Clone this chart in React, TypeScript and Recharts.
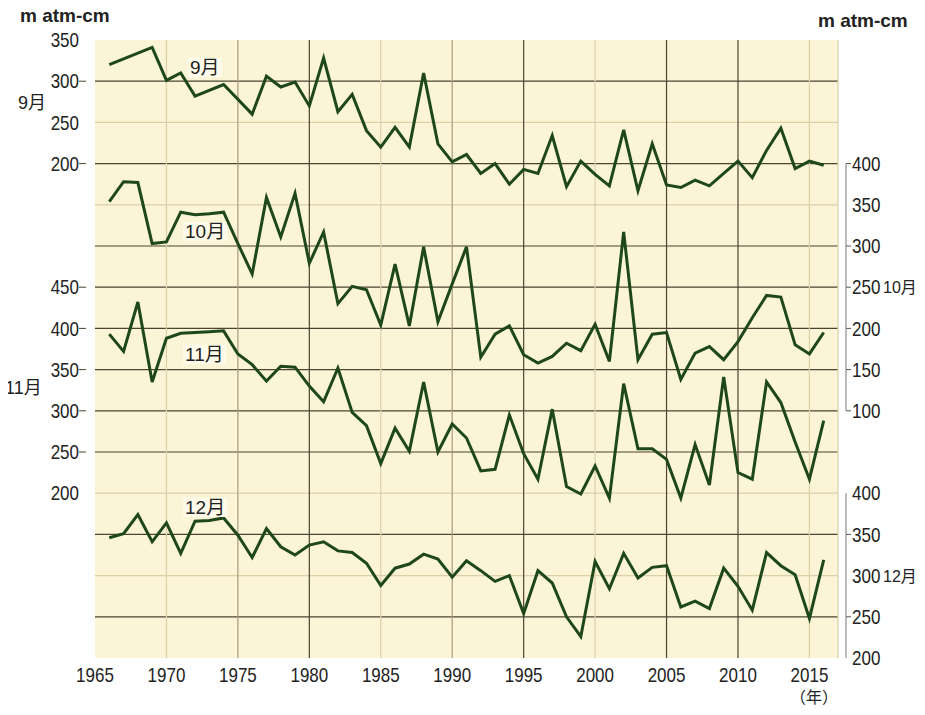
import React from "react";
import { LineChart, Line, XAxis, YAxis, ReferenceLine, ReferenceArea } from "recharts";

const years = [
  1966, 1967, 1968, 1969, 1970, 1971, 1972, 1973, 1974, 1975, 1976, 1977, 1978,
  1979, 1980, 1981, 1982, 1983, 1984, 1985, 1986, 1987, 1988, 1989, 1990, 1991,
  1992, 1993, 1994, 1995, 1996, 1997, 1998, 1999, 2000, 2001, 2002, 2003, 2004,
  2005, 2006, 2007, 2008, 2009, 2010, 2011, 2012, 2013, 2014, 2015, 2016,
];

// 9月 (left scale, top)
const sep = [
  320, null, null, 341, 301, 310, 282, null, 296, null, 260, 306, 293, 299, 270,
  328, 263, 284, 240, 220, 244, 220, 310, 224, 202, 211, 188, 200, 175, 193, 188,
  234, 172, 203, 187, 173, 241, 167, 224, 174, 171, 180, 173, 188, 203, 183, 216,
  243, 194, 203, 198,
];

// 10月 (right scale, upper)
const oct = [
  354, 378, 377, 303, 305, 341, 338, 339, 341, 303, 266, 359, 311, 364, 279, 317,
  230, 251, 247, 204, 278, 203, 299, 208, 254, 299, 165, 193, 203, 168, 158, 166,
  182, 173, 205, 160, 317, 162, 193, 195, 138, 170, 178, 162, 184, 213, 240, 238,
  180, 169, 195,
];

// 11月 (left scale, lower)
const nov = [
  393, 372, 432, 335, 388, 394, 395, 396, 397, 369, 356, 336, 354, 353, 330, 311,
  352, 298, 282, 236, 279, 251, 335, 250, 284, 267, 227, 229, 295, 248, 217, 302,
  208, 199, 233, 194, 333, 254, 254, 241, 194, 259, 210, 341, 225, 217, 335, 310,
  262, 217, 288,
];

// 12月 (right scale, lower)
const dec = [
  346, 351, 374, 341, 364, 327, 366, 367, 370, 349, 322, 357, 335, 325, 337, 341,
  330, 328, 315, 288, 309, 314, 326, 320, 298, 318, 306, 293, 300, 254, 306, 291,
  250, 226, 317, 284, 327, 297, 310, 312, 262, 269, 260, 309, 287, 258, 328, 312,
  301, 248, 319,
];

const xTicks = [1965, 1970, 1975, 1980, 1985, 1990, 1995, 2000, 2005, 2010, 2015];
// left axis ticks in the 9月 scale; values below 200 belong to 11月 (+400)
const leftTicks = [350, 300, 250, 200, 50, 0, -50, -100, -150, -200];
// right axis ticks in the 10月 scale; values below 100 belong to 12月 (+400)
const rightTicks = [400, 350, 300, 250, 200, 150, 100, 0, -50, -100, -150, -200];

const data = years.map((year, i) => ({
  year,
  sep: sep[i],
  oct: oct[i],
  nov: nov[i],
  dec: dec[i],
}));

const W = 905;
const H = 698;
const PLOT_L = 87;
const PLOT_R = 830;
const PLOT_T = 32;
const PLOT_B = 650;
const STEP = (PLOT_B - PLOT_T) / 15;

const BG = "#FBF4D6";
const DARK = "#4B4432";
const MID = "#A89C78";
const LIGHT = "#DCD0A8";
const LINE = "#1E471B";
const FONT = "'Liberation Sans', 'Noto Sans CJK JP', sans-serif";

const hGrid = [300, 250, 200, 150, 100, 50, 0, -50, -100, -150, -200, -250, -300, -350];
const hLight = [250, 150, -200, -300];
const vGrid = [1970, 1975, 1980, 1985, 1990, 1995, 2000, 2005, 2010, 2015];
const vDark = [1980, 1995, 2005, 2010];
const vMid = [1975, 1990];

const leftDash = [300, 200, 50, 0, -50, -100, -150];
const rightDash = [400, 300, 250, 200, 150, 100, -50, -150];
const rightSeg = [400, 350, 300, 250, 200, 150, 0, -50, -100, -150];

// narrow digits like the original's condensed gothic face
const NarrowText = ({ x, y, anchor, children }: any) => (
  <g transform={`translate(${x},${y}) scale(0.85,1)`}>
    <text x={0} y={0} dy="0.36em" textAnchor={anchor} fontSize={20} fill="#222" fontFamily={FONT}>
      {children}
    </text>
  </g>
);

const LeftTick = (props: any) => {
  const { y, payload } = props;
  const v = payload.value;
  const label = v >= 200 ? v : v + 400;
  return (
    <g>
      {leftDash.includes(v) && (
        <line x1={PLOT_L - 16} x2={PLOT_L - 9} y1={y} y2={y} stroke={DARK} strokeWidth={1} />
      )}
      <NarrowText x={PLOT_L - 16} y={y} anchor="end">
        {label}
      </NarrowText>
    </g>
  );
};

const RightTick = (props: any) => {
  const { y, payload } = props;
  const v = payload.value;
  const label = v >= 100 ? v : v + 400;
  const ax = PLOT_R + 8;
  return (
    <g>
      {rightSeg.includes(v) && (
        <line x1={ax} x2={ax} y1={y} y2={y + STEP} stroke="#777" strokeWidth={1} />
      )}
      {rightDash.includes(v) && (
        <line x1={ax} x2={ax + 5} y1={y} y2={y} stroke="#555" strokeWidth={1} />
      )}
      <NarrowText x={ax + 6} y={y} anchor="start">
        {label}
      </NarrowText>
    </g>
  );
};

const XTick = (props: any) => {
  const { x, payload } = props;
  return (
    <NarrowText x={x} y={PLOT_B + 17} anchor="middle">
      {payload.value}
    </NarrowText>
  );
};

const labels = [
  { text: "m atm-cm", left: 12, top: -2, size: 19, bold: true },
  { text: "m atm-cm", left: 810, top: 3, size: 19, bold: true },
  { text: "9月", left: 10, top: 86, size: 18 },
  { text: "11月", left: -3, top: 371, size: 18 },
  { text: "10月", left: 875, top: 272, size: 16 },
  { text: "12月", left: 875, top: 561, size: 16 },
  { text: "9月", left: 180, top: 50, size: 19, box: true },
  { text: "10月", left: 175, top: 214, size: 19, box: true },
  { text: "11月", left: 175, top: 337, size: 19, box: true },
  { text: "12月", left: 175, top: 490, size: 19, box: true },
  { text: "（年）", left: 782, top: 682, size: 16 },
];

const App = () => {
  return (
    <div style={{ position: "relative", width: W, height: H }}>
      <LineChart width={W} height={H} data={data} margin={{ top: PLOT_T, right: 0, left: 0, bottom: 18 }}>
        <XAxis
          dataKey="year"
          type="number"
          domain={[1965, 2017]}
          ticks={xTicks}
          interval={0}
          axisLine={false}
          tickLine={false}
          height={30}
          tick={<XTick />}
        />
        <YAxis
          yAxisId="sep"
          orientation="left"
          width={PLOT_L}
          domain={[-400, 350]}
          ticks={leftTicks}
          interval={0}
          axisLine={{ stroke: DARK, strokeWidth: 1.5 }}
          tickLine={false}
          tick={<LeftTick />}
        />
        <YAxis
          yAxisId="oct"
          orientation="right"
          width={W - PLOT_R}
          domain={[-200, 550]}
          ticks={rightTicks}
          interval={0}
          axisLine={false}
          tickLine={false}
          tick={<RightTick />}
        />
        <YAxis yAxisId="nov" hide domain={[0, 750]} />
        <YAxis yAxisId="dec" hide domain={[200, 950]} />

        <ReferenceArea yAxisId="sep" x1={1965} x2={2017} y1={-400} y2={350} fill={BG} fillOpacity={1} stroke="none" />
        {hGrid.map((v) => (
          <ReferenceLine
            key={"h" + v}
            yAxisId="sep"
            y={v}
            stroke={hLight.includes(v) ? LIGHT : DARK}
            strokeWidth={1.2}
          />
        ))}
        {vGrid.map((yr) => (
          <ReferenceLine
            key={"v" + yr}
            yAxisId="sep"
            x={yr}
            stroke={vDark.includes(yr) ? DARK : vMid.includes(yr) ? MID : LIGHT}
            strokeWidth={1.2}
          />
        ))}
        <ReferenceLine yAxisId="sep" x={2017} stroke={LIGHT} strokeWidth={1.2} />

        <Line yAxisId="sep" dataKey="sep" stroke={LINE} strokeWidth={3} dot={false} connectNulls isAnimationActive={false} />
        <Line yAxisId="oct" dataKey="oct" stroke={LINE} strokeWidth={3} dot={false} isAnimationActive={false} />
        <Line yAxisId="nov" dataKey="nov" stroke={LINE} strokeWidth={3} dot={false} isAnimationActive={false} />
        <Line yAxisId="dec" dataKey="dec" stroke={LINE} strokeWidth={3} dot={false} isAnimationActive={false} />
      </LineChart>
      {labels.map((l, i) => (
        <span
          key={i}
          style={{
            position: "absolute",
            left: l.left,
            top: l.top,
            fontSize: l.size,
            lineHeight: 1,
            fontWeight: l.bold ? "bold" : "normal",
            fontFamily: l.bold ? "'Liberation Sans', sans-serif" : FONT,
            color: "#222",
            whiteSpace: "nowrap",
            background: l.box ? "#FFFBEA" : "transparent",
            padding: l.box ? "0 2px" : 0,
          }}
        >
          {l.text}
        </span>
      ))}
    </div>
  );
};

export default App;
